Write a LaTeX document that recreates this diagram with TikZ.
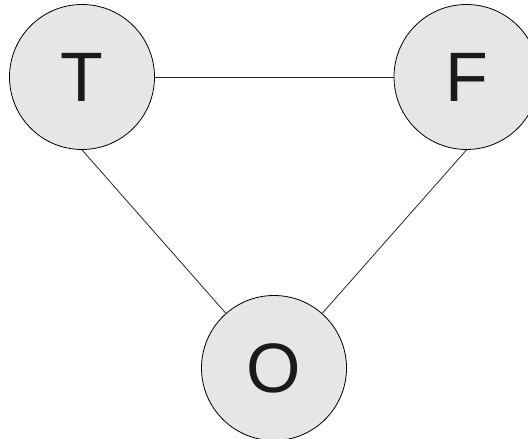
\documentclass[tikz,border=0pt]{standalone}
\usepackage{fontspec}
\setmainfont{Liberation Sans}
\usepackage{tikz}
\usetikzlibrary{positioning}
\definecolor{ballGray}{RGB}{230,230,230}
\definecolor{inkGray}{RGB}{26,26,26}

\begin{document}
\begin{tikzpicture}[x=1pt,y=1pt,
    ball/.style={circle,draw=black,line width=0.8pt,fill=ballGray,
      minimum size=145pt,inner sep=0pt,text=inkGray,
      font=\fontsize{70}{70}\selectfont},
    link/.style={draw=black!85,line width=0.8pt}]
        % page frame, clipped as in the original
        \clip (0,0) rectangle (528,439);
        \useasboundingbox (0,0) rectangle (528,439);
        % the three balls
        \node[ball] (T) at (82,362) {T};
        \node[ball] (F) at (466.5,362) {F};
        \node[ball] (O) at (274,71) {O};
        % links between them
        \draw[link] (T) -- (F);
        \draw[link] (T.south) -- (O);
        \draw[link] (F.south) -- (O);
      \end{tikzpicture}
\end{document}
